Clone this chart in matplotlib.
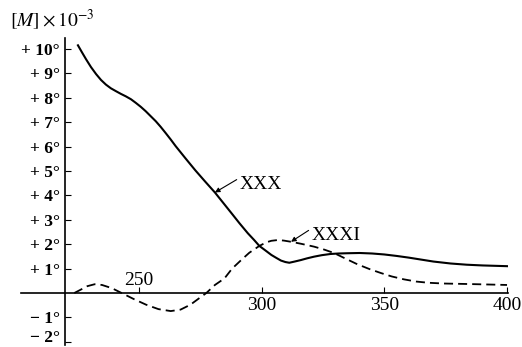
import matplotlib
matplotlib.use("Agg")
import matplotlib.pyplot as plt
from matplotlib.transforms import ScaledTranslation

plt.rcParams['font.family'] = ['Liberation Serif', 'DejaVu Serif']
plt.rcParams['mathtext.fontset'] = 'stix'

# Wavelength (nm) and [M] x 10^-3 values
xxx_wl = [225.2, 226.8, 228.5, 230.5, 232.6, 234.6, 236.6, 238.6, 240.7, 242.7, 244.7,
          246.8, 248.8, 250.8, 252.8, 254.8, 256.9, 258.9, 260.9, 263, 265, 269, 273, 277,
          281, 284.5, 288, 291, 294.4, 297, 299.1, 301.5, 304, 306, 307.9, 309.7, 311.3,
          313.5, 316, 318.5, 321.4, 324.5, 328.1, 331.5, 334.9, 340, 345, 350, 355, 360, 365,
          370, 377, 383.6, 390, 400]
xxx_val = [10.15, 9.87, 9.58, 9.26, 8.97, 8.73, 8.54, 8.39, 8.27, 8.16, 8.06, 7.94, 7.79,
           7.63, 7.45, 7.25, 7.04, 6.81, 6.56, 6.29, 6.02, 5.52, 5.03, 4.57, 4.12, 3.68,
           3.24, 2.86, 2.45, 2.17, 1.93, 1.75, 1.56, 1.44, 1.33, 1.27, 1.24, 1.29, 1.35,
           1.42, 1.49, 1.55, 1.6, 1.62, 1.63, 1.64, 1.62, 1.58, 1.52, 1.45, 1.37, 1.29, 1.21,
           1.16, 1.13, 1.1]

xxxi_wl = [223.7, 226, 229, 232, 235, 239, 243, 248, 253, 258, 263, 267, 271, 274.5, 277.5,
           281, 284.9, 288, 291.7, 295, 299.1, 302, 304, 306.5, 309, 312, 316, 321.4, 325.5,
           329.5, 334, 339, 344, 348.6, 353, 358, 363, 368, 374, 383.6, 392, 400]
xxxi_val = [0, 0.12, 0.28, 0.36, 0.33, 0.2, 0.0, -0.25, -0.48, -0.66, -0.74, -0.68, -0.48,
            -0.22, 0.0, 0.33, 0.6, 1.0, 1.35, 1.65, 1.93, 2.08, 2.14, 2.17, 2.15, 2.1, 2.02,
            1.9, 1.78, 1.64, 1.42, 1.18, 0.98, 0.82, 0.68, 0.56, 0.47, 0.42, 0.39, 0.37, 0.35,
            0.33]

y_ticks = [10, 9, 8, 7, 6, 5, 4, 3, 2, 1, -1, -2]
y_tick_labels = ['+ 10°', '+ 9°', '+ 8°', '+ 7°', '+ 6°', '+ 5°', '+ 4°', '+ 3°', '+ 2°',
                 '+ 1°', '− 1°', '− 2°']
x_ticks = [250, 300, 350, 400]
x_tick_labels = ['', '300', '350', '400']

fig = plt.figure(figsize=(5.22, 3.47), dpi=100)
ax = fig.add_axes([21/522, 2/347, 487/522, 307/347])
ax.set_xlim(202.0, 400.4)
ax.set_ylim(-2.13, 10.45)

ax.plot(xxx_wl, xxx_val, color='black', lw=1.5, solid_joinstyle='round')
ax.plot(xxxi_wl, xxxi_val, color='black', lw=1.3, dashes=(5, 2.8))

for s in ['top', 'right']:
    ax.spines[s].set_visible(False)
ax.spines['left'].set_position(('data', 220))
ax.spines['bottom'].set_position(('data', 0))
ax.spines['left'].set_linewidth(1.2)
ax.spines['bottom'].set_linewidth(1.2)

ax.set_yticks(y_ticks)
ax.set_yticklabels(y_tick_labels, fontsize=12.5, fontweight='bold')
ax.set_xticks(x_ticks)
ax.set_xticklabels(x_tick_labels, fontsize=14)
ax.tick_params(axis='y', direction='in', length=4, width=0.8, pad=4)
ax.tick_params(axis='x', direction='in', length=4, width=0.8, pad=3)

# nudge the lowest label up slightly so it stays inside the canvas
for tick in ax.yaxis.get_major_ticks():
    if tick.label1.get_text() == '− 2°':
        tick.label1.set_transform(tick.label1.get_transform() +
                                  ScaledTranslation(0, 5.5/100, fig.dpi_scale_trans))

ax.text(250, 0.15, '250', fontsize=14, ha='center', va='bottom')

ax.annotate('XXX', xy=(281, 4.12), xytext=(291, 4.45), fontsize=14, va='center', ha='left',
            arrowprops=dict(arrowstyle='-|>', lw=0.8, color='black', mutation_scale=7,
                            shrinkA=0, shrinkB=0, relpos=(-0.02, 0.85)))
ax.annotate('XXXI', xy=(312, 2.1), xytext=(320.3, 2.37), fontsize=14, va='center', ha='left',
            arrowprops=dict(arrowstyle='-|>', lw=0.8, color='black', mutation_scale=7,
                            shrinkA=0, shrinkB=0, relpos=(-0.02, 0.85)))

fig.text(10/522, 1 - 20/347, r'$[M]\times10^{-3}$', fontsize=14, ha='left', va='center')

fig.savefig('out.png', dpi=100)
